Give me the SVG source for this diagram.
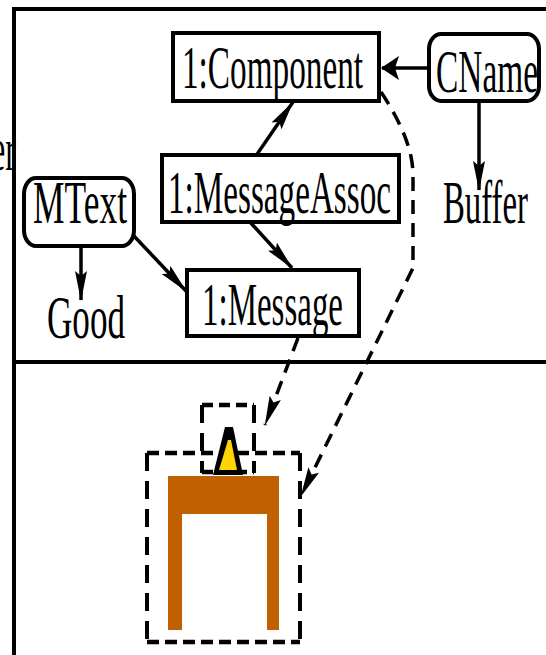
<svg xmlns="http://www.w3.org/2000/svg" width="546" height="655" viewBox="0 0 546 655">
  <style>
    .frame { stroke: #000; stroke-width: 4; fill: none; }
    .box { fill: #fff; stroke: #000; stroke-width: 4; }
    .lbl { font-family: "Liberation Serif", "Times New Roman", serif; font-size: 62px; fill: #000; }
    .edge { fill: none; stroke: #000; stroke-width: 3.5; }
    .dash { stroke-dasharray: 14 9; }
    .hd { fill: none; stroke: #000; stroke-width: 4.5; stroke-dasharray: 12 6; }
    .vd { fill: none; stroke: #000; stroke-width: 4; stroke-dasharray: 18 10; }
    .hds { fill: none; stroke: #000; stroke-width: 4.5; stroke-dasharray: 11 6; }
  </style>
  <defs>
    <marker id="head" viewBox="0 0 30 12" refX="29" refY="6" markerWidth="30" markerHeight="12" markerUnits="userSpaceOnUse" orient="auto">
      <path d="M0,0 L30,6 L0,12 L5,6 Z" fill="#000"/>
    </marker>
    <marker id="headWide" viewBox="0 0 18 24" refX="17" refY="12" markerWidth="18" markerHeight="24" markerUnits="userSpaceOnUse" orient="auto">
      <path d="M0,0 L18,12 L0,24 L4,12 Z" fill="#000"/>
    </marker>
  </defs>

  <rect width="546" height="655" fill="#fff"/>

  <!-- outer frame and divider -->
  <g id="frame">
    <path class="frame" d="M14,655 V9 H546"/>
    <path class="frame" d="M14,362 H546"/>
    <text class="lbl" x="-9" y="170" textLength="25" lengthAdjust="spacingAndGlyphs">er</text>
  </g>

  <!-- connectors -->
  <g id="connectors">
    <path class="edge" d="M427,68 H382" marker-end="url(#headWide)"/>
    <path class="edge" d="M479,103 V190" marker-end="url(#head)"/>
    <path class="edge" d="M81,248 V300" marker-end="url(#head)"/>
    <path class="edge" d="M133,235 L186,291" marker-end="url(#head)"/>
    <path class="edge" d="M253,160 L293,102" marker-end="url(#head)"/>
    <path class="edge" d="M250,222 L292,268" marker-end="url(#head)"/>
    <path class="edge dash" d="M298,338 L265,425" marker-end="url(#head)"/>
    <path class="edge dash" d="M381,92 Q413,140 413,175 L413,268 L301,496" marker-end="url(#head)"/>
  </g>

  <g id="component">
    <rect class="box" x="173" y="33" width="206" height="68"/>
    <text class="lbl" x="182" y="88" textLength="181" lengthAdjust="spacingAndGlyphs">1:Component</text>
  </g>

  <g id="cname">
    <rect class="box" x="429" y="34" width="110" height="67" rx="12" ry="15"/>
    <text class="lbl" x="436" y="92" textLength="102" lengthAdjust="spacingAndGlyphs">CName</text>
  </g>

  <g id="buffer">
    <text class="lbl" x="443" y="223" textLength="85" lengthAdjust="spacingAndGlyphs">Buffer</text>
  </g>

  <g id="messageAssoc">
    <rect class="box" x="162" y="155" width="237" height="67"/>
    <text class="lbl" x="168" y="213" textLength="223" lengthAdjust="spacingAndGlyphs">1:MessageAssoc</text>
  </g>

  <g id="mtext">
    <rect class="box" x="24" y="178" width="110" height="68" rx="12" ry="16"/>
    <text class="lbl" x="33" y="223" textLength="94" lengthAdjust="spacingAndGlyphs">MText</text>
  </g>

  <g id="good">
    <text class="lbl" x="47" y="338" textLength="78" lengthAdjust="spacingAndGlyphs">Good</text>
  </g>

  <g id="message">
    <rect class="box" x="187" y="270" width="172" height="66"/>
    <text class="lbl" x="202" y="325" textLength="141" lengthAdjust="spacingAndGlyphs">1:Message</text>
  </g>

  <!-- lower scene: dashed bounds, table and flame -->
  <g id="tableBounds">
    <path class="hd" d="M147,453 H300"/>
    <path class="hd" d="M147,642 H300"/>
    <path class="vd" d="M147,453 V642"/>
    <path class="vd" d="M300,453 V642"/>
  </g>

  <g id="flameBounds">
    <path class="hds" d="M202,405 H254"/>
    <path class="hds" d="M202,472 H254"/>
    <path class="vd" d="M202,405 V473"/>
    <path class="vd" d="M254,405 V473"/>
  </g>

  <g id="table">
    <path d="M168,476 H279 V630 H267 V514 H182 V630 H168 Z" fill="#c06000"/>
  </g>

  <g id="flame">
    <polygon points="225,427 233,427 243,475 213,475" fill="#000"/>
    <polygon points="228,440 231,440 237,470 219,470" fill="#ffd400"/>
  </g>
</svg>
